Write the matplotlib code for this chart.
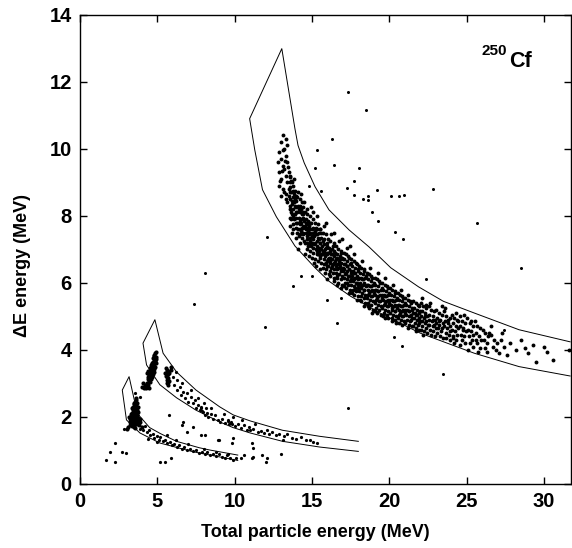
import numpy as np
import matplotlib
matplotlib.use("Agg")
import matplotlib.pyplot as plt

# gate outlines (MeV)
big_upper = [(13.05, 12.99), (13.9, 10.6), (14.1, 10.1), (14.5, 9.58), (15.2, 8.87), (16.1, 8.18),
             (17.4, 7.58), (18.7, 7.07), (20.1, 6.45), (21.9, 5.88), (23.5, 5.45), (25.5, 5.1),
             (28.4, 4.6), (31.7, 4.24)]
big_lower = [(10.97, 10.9), (11.3, 9.97), (11.8, 8.78), (12.7, 7.97), (13.9, 7.1), (15.2, 6.45),
             (16.1, 6.05), (17.5, 5.6), (19.4, 5.1), (22.0, 4.5), (25.5, 3.9), (28.4, 3.5), (31.7, 3.22)]
mid_upper = [(4.84, 4.9), (5.37, 3.9), (6.24, 3.34), (7.5, 2.8), (9.03, 2.3), (9.9, 2.06),
             (11.0, 1.88), (13.1, 1.6), (15.5, 1.42), (18.0, 1.27)]
mid_lower = [(4.07, 4.2), (4.3, 3.55), (5.16, 2.96), (6.24, 2.57), (7.5, 2.2), (9.03, 1.85),
             (9.9, 1.68), (11.0, 1.52), (13.1, 1.27), (15.5, 1.1), (18.0, 0.97)]
small_upper = [(3.17, 3.2), (3.55, 2.42), (3.8, 2.05), (4.5, 1.68), (5.2, 1.5), (6.24, 1.27),
               (7.7, 1.08), (8.4, 1.01), (10.2, 0.86)]
small_lower = [(2.73, 2.8), (3.0, 1.91), (3.87, 1.52), (5.16, 1.22), (7.3, 0.96), (10.2, 0.7)]

# fission fragment band
band = [
    (13.1, 10.4), (13.0, 10.2), (13.3, 10.3), (12.9, 9.9), (13.2, 10.0), (13.4, 10.1), (12.8, 9.6), (13.0, 9.7),
    (13.3, 9.8), (13.1, 9.5), (12.9, 9.3), (13.2, 9.4), (13.4, 9.6), (13.0, 9.1), (13.3, 9.2), (13.5, 9.3),
    (12.9, 8.9), (13.1, 8.8), (13.4, 9.0), (13.2, 8.7), (13.5, 8.8), (13.0, 8.6), (13.3, 8.5), (13.6, 9.0),
    (13.15, 9.95), (13.25, 9.65), (13.05, 9.35), (13.45, 9.45), (13.35, 8.65), (13.55, 9.15), (12.95, 9.05),
    (13.5, 8.6), (13.6, 8.7), (13.4, 8.4),
    (13.6, 9.2), (13.7, 9.0), (13.55, 8.85), (13.8, 8.9), (13.65, 8.7), (13.9, 8.75), (13.6, 8.5), (13.75, 8.55),
    (13.95, 8.6), (13.7, 8.35), (13.85, 8.4), (14.0, 8.45), (13.6, 8.2), (13.8, 8.2), (13.95, 8.25), (13.7, 8.05),
    (13.9, 8.05), (14.0, 8.1), (13.65, 7.9), (13.85, 7.9), (13.75, 7.75), (13.95, 7.8), (14.0, 7.65), (13.8, 7.6),
    (13.6, 7.95), (13.9, 8.5), (13.75, 8.75), (13.55, 8.3), (13.85, 8.65), (13.7, 8.45), (13.9, 8.3), (13.65, 8.1),
    (13.8, 8.0), (13.95, 7.95), (13.6, 7.7), (13.7, 7.5), (13.85, 9.1), (13.65, 9.05),
    (14.05, 8.55), (14.2, 8.5), (14.35, 8.4), (14.1, 8.3), (14.25, 8.3), (14.45, 8.25), (14.05, 8.1), (14.2, 8.1),
    (14.4, 8.05), (14.15, 7.95), (14.3, 7.9), (14.5, 7.85), (14.05, 7.8), (14.2, 7.75), (14.4, 7.7), (14.1, 7.6),
    (14.3, 7.55), (14.45, 7.5), (14.15, 7.4), (14.35, 7.35), (14.25, 7.2), (14.5, 7.25), (14.1, 7.0), (14.3, 8.2),
    (14.4, 7.95), (14.2, 7.85), (14.35, 7.65), (14.45, 8.1), (14.1, 8.7), (14.3, 8.65), (14.0, 7.35), (14.25, 7.45),
    (14.15, 8.2), (14.4, 7.45), (14.3, 7.8), (14.2, 7.6), (14.45, 7.65), (14.5, 8.4), (14.05, 7.5), (14.35, 8.05),
    (14.55, 8.1), (14.7, 8.05), (14.85, 8.0), (14.6, 7.9), (14.75, 7.85), (14.95, 7.8), (14.55, 7.7), (14.7, 7.65),
    (14.9, 7.6), (14.6, 7.5), (14.8, 7.45), (15.0, 7.4), (14.65, 7.3), (14.85, 7.25), (14.55, 7.2), (14.75, 7.1),
    (14.95, 7.1), (14.65, 7.0), (14.9, 6.95), (14.8, 7.7), (14.7, 7.4), (14.9, 7.35), (14.6, 7.6), (15.0, 7.6),
    (14.75, 7.55), (14.85, 7.8), (14.65, 8.2), (14.95, 8.25), (14.55, 6.85), (14.8, 6.8), (14.7, 7.2), (14.6, 7.8),
    (14.9, 7.5), (14.8, 7.15), (15.0, 7.2), (14.7, 7.75),
    (15.05, 7.9), (15.2, 7.8), (15.4, 7.75), (15.1, 7.65), (15.3, 7.6), (15.45, 7.5), (15.05, 7.5), (15.25, 7.45),
    (15.4, 7.35), (15.1, 7.3), (15.3, 7.25), (15.5, 7.2), (15.15, 7.15), (15.35, 7.1), (15.05, 7.05), (15.25, 7.0),
    (15.45, 6.95), (15.1, 6.9), (15.3, 6.85), (15.5, 6.8), (15.2, 6.7), (15.4, 6.65), (15.35, 7.45), (15.2, 7.2),
    (15.45, 7.05), (15.15, 7.4), (15.3, 6.95), (15.0, 6.75), (15.25, 7.65), (15.4, 6.85), (15.15, 6.6), (15.35, 8.0),
    (15.5, 7.6), (15.1, 8.1), (15.25, 6.5), (15.45, 7.3), (15.2, 7.55),
    (15.55, 7.6), (15.7, 7.5), (15.9, 7.45), (15.6, 7.35), (15.8, 7.3), (15.95, 7.2), (15.55, 7.2), (15.75, 7.15),
    (15.9, 7.05), (15.6, 7.0), (15.8, 6.95), (16.0, 6.9), (15.65, 6.85), (15.85, 6.8), (15.55, 6.75), (15.75, 6.7),
    (15.95, 6.65), (15.6, 6.6), (15.8, 6.55), (16.0, 6.5), (15.7, 6.45), (15.9, 6.4), (15.65, 7.1), (15.85, 7.0),
    (15.75, 6.9), (15.95, 6.85), (15.6, 6.85), (15.7, 7.25), (15.9, 6.6), (15.8, 7.7), (15.55, 6.4), (15.85, 6.3),
    (15.7, 6.95), (16.0, 7.1), (15.6, 7.5), (15.9, 7.8),
    (16.05, 7.3), (16.2, 7.25), (16.4, 7.2), (16.1, 7.05), (16.3, 7.0), (16.45, 6.95), (16.05, 6.9), (16.25, 6.85),
    (16.4, 6.8), (16.1, 6.75), (16.3, 6.7), (16.5, 6.65), (16.15, 6.6), (16.35, 6.55), (16.05, 6.5), (16.25, 6.45),
    (16.45, 6.4), (16.15, 6.35), (16.35, 6.3), (16.2, 6.2), (16.45, 6.15), (16.3, 6.85), (16.15, 6.95), (16.4, 6.6),
    (16.2, 6.65), (16.05, 6.7), (16.35, 7.1), (16.5, 6.9), (16.25, 7.45), (16.1, 6.25), (16.4, 6.05), (16.3, 6.5),
    (16.2, 6.75), (16.45, 7.5), (16.0, 6.1),
    (16.55, 7.1), (16.7, 7.0), (16.9, 6.95), (16.6, 6.85), (16.8, 6.8), (16.95, 6.75), (16.55, 6.7), (16.75, 6.65),
    (16.9, 6.6), (16.6, 6.55), (16.8, 6.5), (17.0, 6.45), (16.65, 6.4), (16.85, 6.35), (16.55, 6.3), (16.75, 6.25),
    (16.95, 6.2), (16.65, 6.15), (16.85, 6.1), (16.7, 6.0), (16.95, 5.95), (16.8, 6.7), (16.65, 6.75), (16.9, 6.4),
    (16.7, 6.45), (16.6, 6.2), (16.85, 6.9), (17.0, 6.7), (16.75, 7.25), (16.6, 5.95), (16.9, 5.85), (16.75, 6.55),
    (16.55, 6.5), (16.95, 7.3),
    (17.05, 6.9), (17.2, 6.85), (17.4, 6.75), (17.1, 6.7), (17.3, 6.65), (17.45, 6.55), (17.05, 6.55), (17.25, 6.5),
    (17.4, 6.4), (17.1, 6.4), (17.3, 6.35), (17.5, 6.3), (17.15, 6.25), (17.35, 6.2), (17.05, 6.15), (17.25, 6.1),
    (17.45, 6.05), (17.15, 6.0), (17.35, 5.95), (17.2, 5.85), (17.45, 5.8), (17.3, 6.5), (17.15, 6.55), (17.4, 6.2),
    (17.2, 6.3), (17.1, 5.9), (17.35, 6.8), (17.5, 6.6), (17.25, 7.05), (17.4, 5.7), (17.0, 6.35), (17.3, 6.0),
    (17.45, 7.1),
    (17.55, 6.7), (17.7, 6.65), (17.9, 6.55), (17.6, 6.5), (17.8, 6.45), (17.95, 6.35), (17.55, 6.35), (17.75, 6.3),
    (17.9, 6.2), (17.6, 6.2), (17.8, 6.15), (18.0, 6.1), (17.65, 6.05), (17.85, 6.0), (17.55, 5.95), (17.75, 5.9),
    (17.95, 5.85), (17.65, 5.8), (17.85, 5.75), (17.7, 5.65), (17.95, 5.6), (17.8, 6.3), (17.65, 6.35), (17.9, 6.0),
    (17.7, 6.1), (17.6, 5.7), (17.85, 6.6), (18.0, 6.4), (17.75, 6.85), (17.9, 5.5), (17.55, 6.1), (17.8, 5.85),
    (18.05, 6.5), (18.2, 6.45), (18.4, 6.35), (18.1, 6.3), (18.3, 6.25), (18.45, 6.15), (18.05, 6.15), (18.25, 6.1),
    (18.4, 6.0), (18.1, 6.0), (18.3, 5.95), (18.5, 5.9), (18.15, 5.85), (18.35, 5.8), (18.05, 5.75), (18.25, 5.7),
    (18.45, 5.65), (18.15, 5.6), (18.35, 5.55), (18.2, 5.45), (18.45, 5.4), (18.3, 6.1), (18.15, 6.15), (18.4, 5.8),
    (18.2, 5.9), (18.1, 5.5), (18.35, 6.4), (18.5, 6.2), (18.25, 6.65), (18.4, 5.3), (18.0, 5.95),
    (18.55, 6.3), (18.7, 6.25), (18.9, 6.15), (18.6, 6.1), (18.8, 6.05), (18.95, 5.95), (18.55, 5.95), (18.75, 5.9),
    (18.9, 5.8), (18.6, 5.8), (18.8, 5.75), (19.0, 5.7), (18.65, 5.65), (18.85, 5.6), (18.55, 5.55), (18.75, 5.5),
    (18.95, 5.45), (18.65, 5.4), (18.85, 5.35), (18.7, 5.25), (18.95, 5.2), (18.8, 5.9), (18.65, 5.95), (18.9, 5.6),
    (18.7, 5.7), (18.6, 5.3), (18.85, 6.2), (19.0, 6.0), (18.75, 6.45), (18.9, 5.1),
    (19.05, 6.15), (19.2, 6.1), (19.4, 6.0), (19.1, 5.95), (19.3, 5.9), (19.45, 5.8), (19.05, 5.8), (19.25, 5.75),
    (19.4, 5.65), (19.1, 5.65), (19.3, 5.6), (19.5, 5.55), (19.15, 5.5), (19.35, 5.45), (19.05, 5.4), (19.25, 5.35),
    (19.45, 5.3), (19.15, 5.25), (19.35, 5.2), (19.2, 5.1), (19.45, 5.05), (19.3, 5.75), (19.15, 5.8), (19.4, 5.45),
    (19.2, 5.55), (19.1, 5.15), (19.35, 6.05), (19.5, 5.85), (19.25, 6.3),
    (19.55, 6.0), (19.7, 5.95), (19.9, 5.85), (19.6, 5.8), (19.8, 5.75), (19.95, 5.65), (19.55, 5.65), (19.75, 5.6),
    (19.9, 5.5), (19.6, 5.5), (19.8, 5.45), (20.0, 5.4), (19.65, 5.35), (19.85, 5.3), (19.55, 5.25), (19.75, 5.2),
    (19.95, 5.15), (19.65, 5.1), (19.85, 5.05), (19.7, 4.95), (19.95, 4.95), (19.8, 5.6), (19.65, 5.65), (19.9, 5.3),
    (19.7, 5.4), (19.85, 5.9), (20.0, 5.7), (19.75, 6.15), (19.6, 5.0),
    (20.05, 5.85), (20.2, 5.8), (20.4, 5.7), (20.1, 5.65), (20.3, 5.6), (20.45, 5.5), (20.05, 5.5), (20.25, 5.45),
    (20.4, 5.35), (20.1, 5.35), (20.3, 5.3), (20.5, 5.25), (20.15, 5.2), (20.35, 5.15), (20.05, 5.1), (20.25, 5.05),
    (20.45, 5.0), (20.15, 4.95), (20.35, 4.9), (20.2, 4.85), (20.3, 5.45), (20.15, 5.5), (20.4, 5.15), (20.2, 5.25),
    (20.35, 5.75), (20.5, 5.55), (20.25, 5.95), (20.45, 4.8),
    (20.55, 5.7), (20.7, 5.65), (20.9, 5.55), (20.6, 5.5), (20.8, 5.45), (20.95, 5.35), (20.55, 5.35), (20.75, 5.3),
    (20.9, 5.2), (20.6, 5.2), (20.8, 5.15), (21.0, 5.1), (20.65, 5.05), (20.85, 5.0), (20.55, 4.95), (20.75, 4.9),
    (20.95, 4.85), (20.65, 4.8), (20.85, 4.75), (20.8, 5.3), (20.65, 5.35), (20.9, 5.0), (20.7, 5.1), (20.85, 5.6),
    (21.0, 5.4), (20.75, 5.8),
    (21.05, 5.55), (21.2, 5.5), (21.4, 5.4), (21.1, 5.35), (21.3, 5.3), (21.45, 5.2), (21.05, 5.2), (21.25, 5.15),
    (21.4, 5.05), (21.1, 5.05), (21.3, 5.0), (21.5, 4.95), (21.15, 4.9), (21.35, 4.85), (21.05, 4.8), (21.25, 4.75),
    (21.45, 4.7), (21.2, 4.65), (21.3, 5.15), (21.15, 5.2), (21.4, 4.9), (21.35, 5.45), (21.5, 5.25), (21.2, 5.65),
    (21.55, 5.45), (21.7, 5.4), (21.9, 5.3), (21.6, 5.25), (21.8, 5.2), (21.95, 5.1), (21.55, 5.1), (21.75, 5.05),
    (21.9, 4.95), (21.6, 4.95), (21.8, 4.9), (22.0, 4.85), (21.65, 4.8), (21.85, 4.75), (21.55, 4.7), (21.75, 4.65),
    (21.95, 4.6), (21.7, 4.55), (21.8, 5.05), (21.65, 5.1), (21.9, 4.8), (21.85, 5.35), (22.0, 5.15),
    (22.05, 5.4), (22.2, 5.3), (22.4, 5.25), (22.1, 5.15), (22.3, 5.1), (22.45, 5.0), (22.05, 5.0), (22.25, 4.95),
    (22.4, 4.85), (22.1, 4.85), (22.3, 4.8), (22.5, 4.75), (22.15, 4.7), (22.35, 4.65), (22.05, 4.6), (22.25, 4.55),
    (22.45, 4.5), (22.2, 4.45), (22.3, 5.0), (22.4, 5.35), (22.15, 5.55),
    (22.55, 5.3), (22.7, 5.2), (22.9, 5.15), (22.6, 5.05), (22.8, 5.0), (22.95, 4.9), (22.55, 4.9), (22.75, 4.85),
    (22.9, 4.75), (22.6, 4.75), (22.8, 4.7), (23.0, 4.65), (22.65, 4.6), (22.85, 4.55), (22.7, 4.45), (22.95, 4.4),
    (22.8, 4.9), (22.65, 5.4),
    (23.05, 5.2), (23.2, 5.1), (23.4, 5.05), (23.1, 4.95), (23.3, 4.9), (23.45, 4.8), (23.05, 4.8), (23.25, 4.75),
    (23.4, 4.65), (23.15, 4.65), (23.35, 4.55), (23.1, 4.5), (23.3, 4.4), (23.45, 4.35), (23.2, 4.85), (23.4, 5.3),
    (23.55, 5.15), (23.7, 5.0), (23.9, 4.95), (23.6, 4.85), (23.8, 4.8), (23.95, 4.7), (23.55, 4.7), (23.75, 4.65),
    (23.9, 4.55), (23.65, 4.5), (23.85, 4.45), (23.7, 4.35), (23.95, 4.3), (23.8, 4.9), (23.6, 5.25),
    (24.05, 5.05), (24.2, 4.95), (24.4, 4.9), (24.1, 4.8), (24.3, 4.7), (24.45, 4.65), (24.05, 4.6), (24.25, 4.55),
    (24.4, 4.45), (24.15, 4.4), (24.35, 4.3), (24.2, 4.2), (24.45, 4.85), (24.3, 5.1), (24.1, 4.35),
    (24.55, 5.0), (24.7, 4.85), (24.9, 4.8), (24.6, 4.7), (24.8, 4.6), (24.95, 4.55), (24.65, 4.45), (24.85, 4.4),
    (24.7, 4.3), (24.9, 4.2), (24.6, 4.15), (24.75, 4.65), (24.85, 5.05),
    (25.05, 4.95), (25.2, 4.8), (25.4, 4.7), (25.1, 4.6), (25.3, 4.55), (25.45, 4.45), (25.15, 4.4), (25.35, 4.3),
    (25.2, 4.2), (25.4, 4.1), (25.1, 4.0), (25.3, 4.85),
    (25.55, 4.85), (25.7, 4.7), (25.9, 4.65), (25.6, 4.5), (25.8, 4.4), (25.95, 4.3), (25.65, 4.2), (25.85, 4.05),
    (25.75, 3.95), (25.6, 4.3),
    (26.05, 4.6), (26.2, 4.5), (26.4, 4.4), (26.1, 4.3), (26.3, 4.2), (26.45, 4.5), (26.2, 4.05), (26.35, 3.95),
    (26.6, 4.45), (26.8, 4.3), (27.0, 4.2), (26.7, 4.1), (26.9, 4.0), (27.2, 4.3), (27.4, 4.1), (27.1, 3.9),
    (26.6, 4.7), (27.3, 4.5),
    (27.8, 4.2), (28.2, 4.0), (28.5, 4.3), (29.0, 3.9), (29.5, 3.65), (30.0, 4.1), (30.2, 3.95), (30.6, 3.7),
    (29.3, 4.15), (28.8, 4.05), (31.6, 4.0), (27.6, 3.85),
]

# stray events around the band
strays = [
    (17.35, 11.7), (18.5, 11.16), (16.3, 10.3), (15.3, 9.97), (16.45, 9.52), (18.06, 9.43), (15.2, 9.43),
    (17.7, 9.04), (17.3, 8.84), (17.7, 8.63), (18.3, 8.5), (18.6, 8.6), (18.65, 8.48), (19.2, 8.78),
    (20.1, 8.6), (20.65, 8.6), (20.97, 8.63), (22.8, 8.8), (18.9, 8.1), (19.3, 7.84), (25.7, 7.8),
    (15.6, 8.75), (14.8, 8.9), (20.4, 7.52), (20.9, 7.31), (22.4, 6.12), (28.5, 6.45), (12.1, 7.38),
    (13.8, 5.9), (14.3, 6.2), (15.0, 6.2), (16.0, 5.5), (16.9, 5.55), (16.6, 4.8), (20.8, 4.12),
    (20.3, 4.39), (27.4, 4.6), (23.5, 3.28), (17.35, 2.27), (8.06, 6.3), (7.37, 5.37), (11.95, 4.68),
]

# light particle clusters
blobs = [
    (3.6, 2.55), (3.65, 2.5), (3.55, 2.45), (3.7, 2.42), (3.5, 2.38), (3.62, 2.35), (3.72, 2.3), (3.45, 2.3),
    (3.55, 2.28), (3.68, 2.22), (3.4, 2.22), (3.5, 2.18), (3.6, 2.15), (3.75, 2.15), (3.35, 2.12), (3.45, 2.08),
    (3.55, 2.05), (3.67, 2.05), (3.3, 2.02), (3.4, 1.98), (3.5, 1.95), (3.62, 1.95), (3.73, 1.97), (3.25, 1.95),
    (3.35, 1.9), (3.45, 1.87), (3.57, 1.85), (3.68, 1.88), (3.3, 1.82), (3.4, 1.78), (3.52, 1.76), (3.63, 1.78),
    (3.75, 1.8), (3.35, 1.72), (3.47, 1.7), (3.58, 1.68), (3.2, 1.85), (3.15, 2.0), (3.28, 2.1), (3.38, 2.25),
    (3.48, 2.4), (3.58, 2.3), (3.42, 2.0), (3.52, 2.1), (3.62, 2.25), (3.7, 2.05), (3.33, 1.98), (3.6, 1.9),
    (3.5, 1.8), (3.4, 1.9), (3.55, 1.98), (3.65, 2.1), (3.8, 1.75), (3.9, 1.85), (4.0, 1.7), (3.1, 1.7),
    (3.05, 1.65), (3.85, 1.95), (3.2, 1.75),
    (4.85, 3.9), (4.88, 3.8), (4.8, 3.82), (4.9, 3.72), (4.78, 3.72), (4.85, 3.68), (4.72, 3.65), (4.8, 3.6),
    (4.9, 3.6), (4.68, 3.58), (4.75, 3.52), (4.85, 3.5), (4.62, 3.5), (4.7, 3.45), (4.8, 3.42), (4.58, 3.42),
    (4.65, 3.38), (4.75, 3.35), (4.52, 3.35), (4.6, 3.3), (4.7, 3.28), (4.47, 3.28), (4.55, 3.22), (4.65, 3.2),
    (4.42, 3.2), (4.5, 3.15), (4.6, 3.13), (4.38, 3.12), (4.45, 3.08), (4.55, 3.05), (4.35, 3.3), (4.42, 3.38),
    (4.5, 3.45), (4.58, 3.55), (4.65, 3.62), (4.72, 3.75), (4.78, 3.85), (4.62, 3.25), (4.68, 3.4), (4.55, 3.38),
    (4.48, 3.25), (4.72, 3.55), (4.82, 3.7), (4.92, 3.95),
    (4.2, 2.95), (4.25, 2.85), (4.35, 2.9), (4.15, 2.85), (4.3, 3.0), (4.4, 2.95), (4.1, 3.0), (4.45, 2.85), (4.0, 2.9),
    (5.55, 3.45), (5.62, 3.4), (5.7, 3.38), (5.58, 3.32), (5.66, 3.28), (5.75, 3.3), (5.55, 3.22), (5.63, 3.18),
    (5.72, 3.15), (5.6, 3.1), (5.68, 3.05), (5.78, 3.08), (5.65, 3.0), (5.72, 2.95), (5.85, 3.4), (5.9, 3.5),
    (5.5, 3.3),
]

# tails of the light particles along the two lower gates
tails = [
    (6.0, 3.2), (6.1, 2.95), (6.25, 3.1), (6.3, 2.8), (6.45, 2.9), (6.5, 2.65), (6.65, 2.75), (6.8, 2.55),
    (6.9, 2.7), (7.0, 2.45), (7.15, 2.6), (7.3, 2.4), (7.45, 2.5), (7.5, 2.25), (7.65, 2.35), (7.75, 2.2),
    (7.85, 2.3), (7.95, 2.15), (8.05, 2.05), (8.15, 2.25), (8.3, 2.0), (8.45, 2.1), (8.6, 1.95), (8.75, 2.05),
    (8.9, 1.9), (9.05, 1.85), (9.2, 1.95), (9.4, 1.82), (9.55, 1.9), (9.65, 1.78), (9.75, 1.85), (9.85, 1.8),
    (10.0, 1.72), (10.2, 1.8), (10.4, 1.68), (10.6, 1.75), (10.8, 1.62), (11.0, 1.6), (11.2, 1.65), (11.5, 1.55),
    (11.7, 1.58), (11.9, 1.52), (12.2, 1.5), (12.4, 1.55), (12.7, 1.45), (12.9, 1.48), (13.2, 1.42), (13.4, 1.5),
    (13.7, 1.38), (14.0, 1.35), (14.3, 1.4), (14.6, 1.3), (14.85, 1.32), (15.1, 1.25), (15.35, 1.22),
    (6.2, 3.35), (6.6, 3.0), (7.2, 2.8), (7.6, 2.55), (8.0, 2.4), (8.5, 2.25), (9.3, 2.1), (9.9, 2.0),
    (10.5, 1.9), (11.3, 1.8), (7.8, 2.25), (7.9, 2.18), (8.2, 2.12), (9.6, 1.88), (9.7, 1.82), (10.9, 1.7),
    (12.1, 1.62),
    (5.75, 2.07), (6.6, 1.77), (6.65, 1.85), (7.85, 1.46), (8.1, 1.46), (8.9, 1.31), (9.0, 1.31), (9.8, 1.22),
    (9.9, 1.37), (11.1, 1.22), (11.2, 1.07), (13.1, 1.31), (13.0, 0.9), (12.0, 0.66), (11.8, 0.87), (11.2, 0.81),
    (10.6, 0.87), (6.9, 1.55), (7.3, 1.7), (5.2, 0.66), (5.5, 0.66), (5.85, 0.77), (1.68, 0.72), (1.94, 0.96),
    (2.26, 1.22), (2.26, 0.66), (2.7, 0.96), (2.97, 0.93), (2.84, 1.64), (3.55, 2.72), (3.9, 2.6),
    (3.9, 1.65), (4.05, 1.6), (4.2, 1.72), (4.3, 1.55), (4.45, 1.6), (4.55, 1.45), (4.7, 1.5), (4.8, 1.38),
    (4.95, 1.42), (5.1, 1.32), (5.2, 1.4), (5.35, 1.28), (5.5, 1.3), (5.65, 1.22), (5.8, 1.25), (5.95, 1.15),
    (6.1, 1.2), (6.25, 1.1), (6.4, 1.15), (6.6, 1.05), (6.75, 1.1), (6.9, 1.0), (7.1, 1.05), (7.3, 0.98),
    (7.5, 1.02), (7.7, 0.92), (7.9, 0.95), (8.1, 0.88), (8.2, 0.95), (8.4, 0.85), (8.6, 0.9), (8.8, 0.82),
    (9.0, 0.88), (9.2, 0.8), (9.35, 0.78), (9.5, 0.85), (9.7, 0.76), (9.9, 0.72), (10.1, 0.78), (10.4, 0.78),
    (4.4, 1.35), (5.0, 1.25), (5.6, 1.45), (6.2, 1.3), (7.0, 1.2), (8.0, 1.05), (8.8, 0.95), (9.6, 0.9),
    (11.1, 0.78), (12.1, 0.78),
]

plt.rcParams['font.family'] = ['Liberation Sans', 'DejaVu Sans']
plt.rcParams['font.weight'] = 'bold'

fig = plt.figure(figsize=(5.72, 5.48), dpi=100)
ax = fig.add_axes([0.14, 0.117, 0.858, 0.856])

# gates
big = big_lower[::-1] + big_upper
mid = mid_lower[::-1] + mid_upper
small = small_lower[::-1] + small_upper
for gate in (big, mid, small):
    g = np.array(gate)
    ax.plot(g[:, 0], g[:, 1], color='k', lw=0.7)

# events
for pts, ms in ((band, 2.8), (strays, 2.2), (blobs, 3.0), (tails, 2.3)):
    p = np.array(pts)
    ax.plot(p[:, 0], p[:, 1], 'o', ms=ms, mew=0, color='k')

ax.set_xlim(0, 31.75)
ax.set_ylim(0, 14)
ax.set_xticks(np.arange(0, 31, 5))
ax.set_yticks(np.arange(0, 15, 2))
ax.tick_params(direction='in', length=5, width=1, top=True, right=True, labelsize=14.5, pad=6)
for s in ax.spines.values():
    s.set_linewidth(1)

ax.set_xlabel('Total particle energy (MeV)', fontsize=13, fontweight='bold', labelpad=10)
ax.set_ylabel('\u0394E energy (MeV)', fontsize=13, fontweight='bold')
ax.xaxis.set_label_coords(0.48, -0.085)
ax.yaxis.set_label_coords(-0.1, 0.465)

ax.text(25.95, 12.8, '250', fontsize=11, fontweight='bold')
ax.text(27.75, 12.45, 'Cf', fontsize=15.5, fontweight='bold')

fig.savefig('out.png', dpi=100)
